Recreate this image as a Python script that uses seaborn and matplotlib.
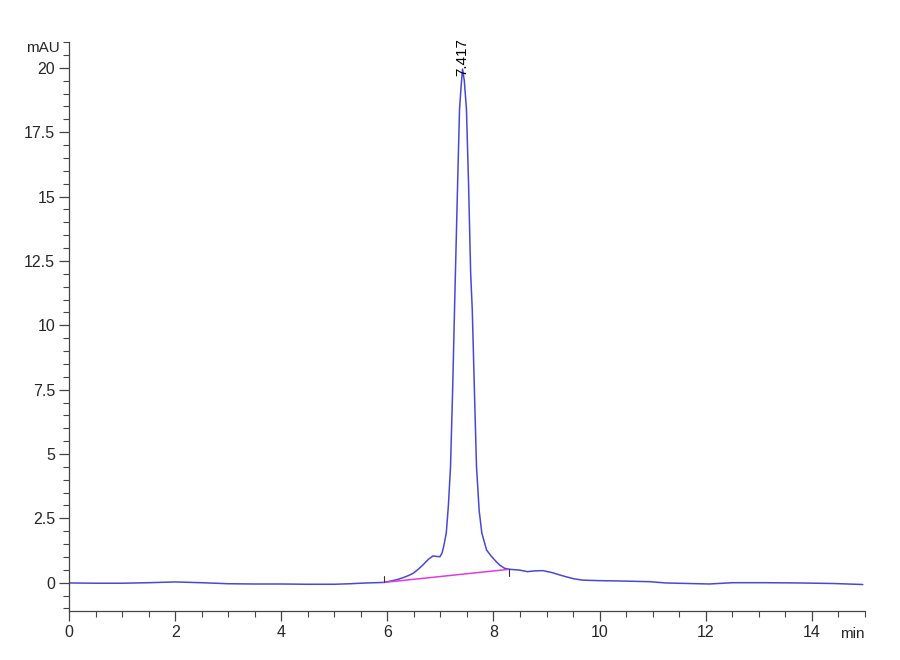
import matplotlib
matplotlib.use("Agg")
import matplotlib.pyplot as plt
import seaborn as sns
from matplotlib.ticker import MultipleLocator

# chromatogram trace (min, mAU)
time_min = [0.0, 0.5, 1.0, 1.5, 2.0, 2.5, 3.0, 3.5, 4.0, 4.5, 5.0, 5.3, 5.6, 5.93,
            6.1, 6.2, 6.3, 6.4, 6.49, 6.58, 6.67, 6.73, 6.78, 6.86, 6.93, 6.99, 7.03,
            7.06, 7.11, 7.15, 7.19, 7.23, 7.27, 7.30, 7.33, 7.36, 7.39, 7.417, 7.45,
            7.49, 7.53, 7.57, 7.60, 7.64, 7.68, 7.73, 7.78, 7.87, 7.95, 8.05, 8.12,
            8.21, 8.31, 8.49, 8.64, 8.78, 8.93, 9.11, 9.25, 9.37, 9.52, 9.68, 10.0,
            10.31, 10.94, 11.25, 12.07, 12.5, 13.14, 13.77, 14.39, 14.96]
signal_mau = [-0.01, -0.02, -0.02, 0.0, 0.03, 0.0, -0.04, -0.05, -0.05, -0.06, -0.06,
              -0.04, -0.01, 0.01, 0.08, 0.13, 0.2, 0.28, 0.37, 0.52, 0.69, 0.82, 0.92,
              1.04, 1.02, 1.01, 1.15, 1.4, 1.93, 3.0, 4.5, 7.5, 11.0, 13.5, 16.0, 18.4,
              19.3, 19.95, 19.5, 18.4, 15.5, 12.0, 10.6, 7.5, 4.5, 2.8, 1.93, 1.27,
              1.05, 0.82, 0.68, 0.56, 0.52, 0.49, 0.43, 0.46, 0.47, 0.39, 0.3, 0.23,
              0.15, 0.1, 0.08, 0.07, 0.04, -0.01, -0.05, 0.0, 0.0, -0.01, -0.03, -0.07]

# integration baseline
base_t = [5.93, 8.29]
base_y = [0.01, 0.52]

peak_rt = 7.417
peak_label = "7.417"

sns.set_style("ticks")
plt.rcParams["font.family"] = ["Liberation Sans Narrow", "Liberation Sans", "DejaVu Sans"]

fig = plt.figure(figsize=(9, 6.6), dpi=100)
ax = fig.add_axes([0.0767, 0.0742, 0.8843, 0.862])

sns.lineplot(x=time_min, y=signal_mau, ax=ax, color="#4848d8", linewidth=1.1)
sns.lineplot(x=base_t, y=base_y, ax=ax, color="#e03ce0", linewidth=1.1)

# baseline start/end marks
ax.plot([base_t[0], base_t[0]], [base_y[0], base_y[0] + 0.25], color="#333333", lw=0.8)
ax.plot([base_t[1], base_t[1]], [base_y[1], base_y[1] - 0.25], color="#333333", lw=0.8)

ax.text(peak_rt, 19.7, peak_label, rotation=90, ha="center", va="bottom",
        fontsize=11, color="black", clip_on=False)

ax.set_xlim(0, 15)
ax.set_ylim(-1.1, 21)
ax.xaxis.set_major_locator(MultipleLocator(2))
ax.xaxis.set_minor_locator(MultipleLocator(0.5))
ax.yaxis.set_minor_locator(MultipleLocator(0.5))
ax.set_yticks([0, 2.5, 5, 7.5, 10, 12.5, 15, 17.5, 20])
ax.set_yticklabels(["0", "2.5", "5", "7.5", "10", "12.5", "15", "17.5", "20"])

ax.tick_params(axis="both", which="major", length=7, width=0.9, color="#444444",
               labelsize=11.5, pad=3)
ax.tick_params(axis="both", which="minor", length=4, width=0.8, color="#444444")
for side in ["left", "bottom"]:
    ax.spines[side].set_color("#444444")
    ax.spines[side].set_linewidth(0.9)
sns.despine(ax=ax)

ax.set_xlabel("")
ax.set_ylabel("")
ax.text(-0.012, 0.99, "mAU", transform=ax.transAxes, ha="right", va="center", fontsize=11)
ax.text(1.0, -0.04, "min", transform=ax.transAxes, ha="right", va="center", fontsize=11)

fig.savefig("out.png", dpi=100, facecolor="white")
